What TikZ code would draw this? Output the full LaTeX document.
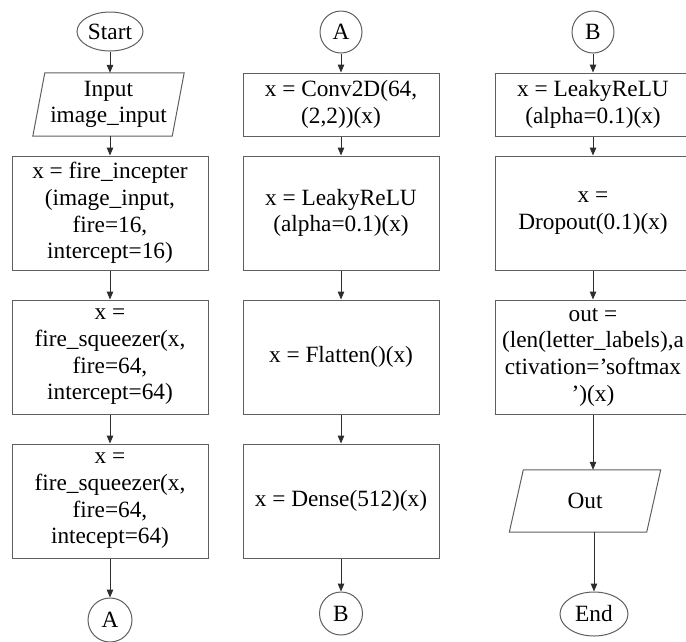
\documentclass[tikz,border=0pt]{standalone}
\usepackage{fontspec}
\setmainfont{Liberation Serif}
\usetikzlibrary{shapes.geometric,arrows.meta}
\definecolor{edge}{RGB}{95,95,95}
\definecolor{flow}{RGB}{45,45,45}

\begin{document}
\begin{tikzpicture}[x=1pt,y=-1pt,
  every node/.style={font=\fontsize{23.3}{26.7}\selectfont, align=center, inner sep=0pt},
  stepbox/.style={draw=edge, line width=1pt, minimum width=196pt},
  tall/.style={minimum height=114pt},
  short/.style={minimum height=63pt},
  terminal/.style={ellipse, draw=edge, line width=1pt},
  connector/.style={circle, draw=edge, line width=1pt},
  iobox/.style={minimum height=63pt},
  outline/.style={draw=edge, line width=1pt},
  flow/.style={draw=flow, line width=1pt, -{Triangle[length=8pt,width=6.5pt]}}
]
\useasboundingbox (0,0) rectangle (686,641);

% ---- first column ----
\node[terminal, minimum width=66pt, minimum height=39pt] (start) at (110,31.5) {Start};
\node[iobox, minimum width=139pt] (in) at (108.5,104.5) {Input\\image\_input};
\draw[outline] ([xshift=6pt]in.north west) -- ([xshift=6pt]in.north east)
  -- ([xshift=-6pt]in.south east) -- ([xshift=-6pt]in.south west) -- cycle;
\node[stepbox, tall] (c1a) at (110,213) {x = fire\_incepter\\(image\_input,\\fire=16,\\intercept=16)};
\node[stepbox, tall] (c1b) at (110,357) {x =\\fire\_squeezer(x,\\fire=64,\\intercept=64)};
\node[stepbox, tall] (c1c) at (110,501) {x =\\fire\_squeezer(x,\\fire=64,\\intecept=64)};
\node[connector, minimum size=44pt] (pa1) at (110,620) {A};

\draw[flow] (start.south) -- (start.south |- in.north);
\draw[flow] (c1a.north |- in.south) -- (c1a.north);
\draw[flow] (c1a) -- (c1b);
\draw[flow] (c1b) -- (c1c);
\draw[flow] (c1c) -- (pa1);

% ---- second column ----
\node[connector, minimum size=42pt] (pa2) at (341,32) {A};
\node[stepbox, short] (c2a) at (341,104.5) {x = Conv2D(64,\\(2,2))(x)};
\node[stepbox, tall] (c2b) at (341,213) {x = LeakyReLU\\(alpha=0.1)(x)};
\node[stepbox, tall] (c2c) at (341,357) {x = Flatten()(x)};
\node[stepbox, tall] (c2d) at (341,501) {x = Dense(512)(x)};
\node[connector, minimum size=43pt] (pb2) at (341,613.5) {B};

\draw[flow] (pa2) -- (c2a);
\draw[flow] (c2a) -- (c2b);
\draw[flow] (c2b) -- (c2c);
\draw[flow] (c2c) -- (c2d);
\draw[flow] (c2d) -- (pb2);

% ---- third column ----
\node[connector, minimum size=42pt] (pb3) at (593,32) {B};
\node[stepbox, short] (c3a) at (593,104.5) {x = LeakyReLU\\(alpha=0.1)(x)};
\node[stepbox, tall] (c3b) at (593,213) {x =\\Dropout(0.1)(x)};
\node[stepbox, tall] (c3c) at (593,357) {out =\\(len(letter\_labels),a\\ctivation='softmax\\')(x)};
\node[iobox, minimum width=137pt, minimum height=62pt] (out) at (585,501) {Out};
\draw[outline] ([xshift=7pt]out.north west) -- ([xshift=7pt]out.north east)
  -- ([xshift=-7pt]out.south east) -- ([xshift=-7pt]out.south west) -- cycle;
\node[terminal, minimum width=68pt, minimum height=44pt] (finish) at (594,614) {End};

\draw[flow] (pb3) -- (c3a);
\draw[flow] (c3a) -- (c3b);
\draw[flow] (c3b) -- (c3c);
\draw[flow] (c3c.south) -- (c3c.south |- out.north);
\draw[flow] (finish.north |- out.south) -- (finish.north);
\end{tikzpicture}
\end{document}
